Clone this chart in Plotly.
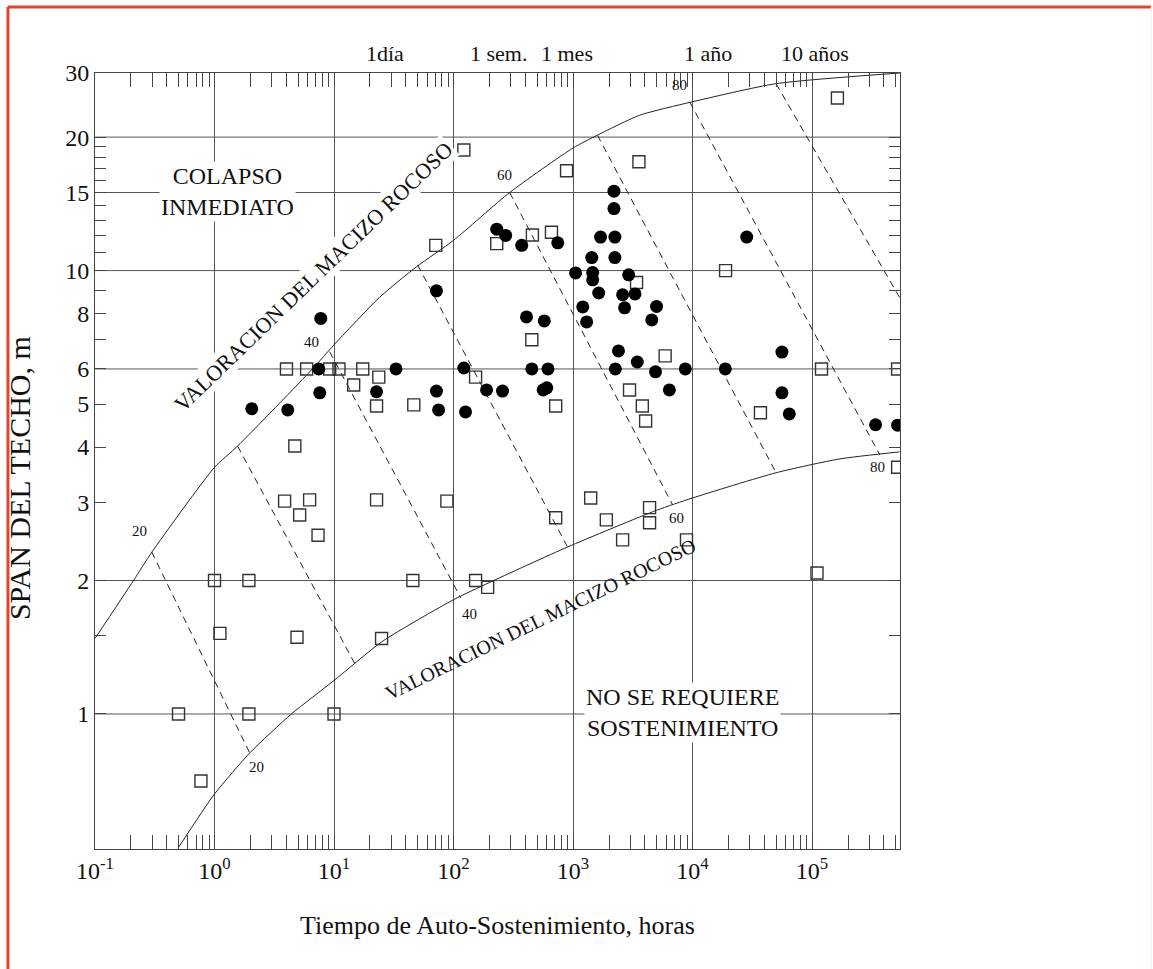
import math
import plotly.graph_objects as go

# ---------------- data ----------------
# axes
X_RANGE_LOG = [-1.0, 5.736]          # 10^-1 h .. ~5.4e5 h
Y_RANGE = [0.496, 27.9]              # m
X_DECADES = [0.1, 1, 10, 100, 1000, 10000, 100000]
X_DECADE_TEXT = ["10<sup>-1</sup>", "10<sup>0</sup>", "10<sup>1</sup>", "10<sup>2</sup>",
                 "10<sup>3</sup>", "10<sup>4</sup>", "10<sup>5</sup>"]
Y_LABEL_VALS = [1, 2, 3, 4, 5, 6, 8, 10, 15, 20, 27.9]
Y_LABEL_TEXT = ["1", "2", "3", "4", "5", "6", "8", "10", "15", "20", "30"]
Y_MINOR_TICKS = [1.5, 7, 9, 11, 12, 13, 14, 16, 17, 18, 19]
Y_GRID_VALS = [1, 2, 6, 10, 15, 20]

# time marks on top
TIME_MARK_TEXT = ["1día", "1 sem.", "1 mes", "1 año", "10 años"]
TIME_MARK_HOURS = [26.5, 239, 885, 13600, 105000]

# upper limit curve (valoracion del macizo rocoso)
UPPER_T = [0.1, 0.21, 0.3, 1.0, 1.56, 6.6, 10, 24, 49, 100, 295, 1000, 1600, 3600, 9800, 50000, 540000]
UPPER_S = [1.48, 2.0, 2.32, 3.6, 4.02, 6.0, 6.8, 8.7, 10.2, 11.7, 15.0, 18.9, 20.2, 22.4, 24.0, 26.4, 27.9]

# lower limit curve
LOWER_T = [0.5, 1.0, 2.0, 4.4, 10, 25.6, 100, 200, 900, 5000, 10000, 50000, 170000, 540000]
LOWER_S = [0.5, 0.66, 0.82, 1.0, 1.19, 1.46, 1.81, 1.98, 2.38, 2.88, 3.07, 3.5, 3.76, 3.9]

# iso-RMR dashed lines (start on upper curve, end on lower curve / frame)
RMR_VALUES = [20, 30, 40, 50, 60, 70, 80, 90]
RMR_T0 = [0.298, 1.56, 9.2, 50, 295, 1600, 9480, 50000]
RMR_S0 = [2.32, 4.02, 6.56, 10.3, 15.0, 20.2, 24.0, 26.4]
RMR_T1 = [1.97, 14.9, 115, 900, 6820, 50000, 369000, 540000]
RMR_S1 = [0.817, 1.30, 1.827, 2.38, 2.96, 3.5, 3.84, 8.7]

# RMR labels
RMR_LABEL_TEXT = ["20", "20", "40", "40", "60", "60", "80", "80"]
RMR_LABEL_T = [0.2366, 2.25, 6.5, 137, 268, 7350, 7800, 354000]
RMR_LABEL_S = [2.587, 0.759, 6.9, 1.68, 16.4, 2.77, 26.2, 3.61]

# case histories: collapse (filled circles)
CIRCLE_T = [2.05, 4.1, 7.75, 7.45, 7.6, 33, 22.7,
            72, 72, 75, 122, 126, 189, 257, 408, 575, 452, 617, 562, 603,
            1206, 1300, 1640, 2600, 2700, 3300, 5000, 4560, 2400, 2260, 3450, 4900, 6400, 8700,
            18800, 56000, 56000, 64500, 340000, 520000,
            230, 273, 372, 745, 2200, 2200, 1700, 2240, 1435, 2240, 2920, 1050, 1460, 1460, 28400]
CIRCLE_S = [4.88, 4.85, 7.8, 6.0, 5.3, 6.0, 5.33,
            9.0, 5.35, 4.85, 6.03, 4.8, 5.38, 5.35, 7.86, 7.7, 6.0, 6.0, 5.38, 5.44,
            8.28, 7.66, 8.9, 8.82, 8.24, 8.86, 8.3, 7.74, 6.59, 6.0, 6.22, 5.91, 5.38, 6.0,
            6.0, 6.55, 5.3, 4.75, 4.49, 4.48,
            12.4, 12.0, 11.4, 11.55, 15.1, 13.8, 11.9, 11.9, 10.7, 10.7, 9.78, 9.88, 9.9, 9.53, 11.9]

# case histories: no collapse (open squares)
SQUARE_T = [4.0, 5.9, 9.2, 11, 17.4, 14.6, 23.7, 22.7, 4.7, 3.86, 6.25, 5.16, 7.35, 22.7,
            1.0, 1.94, 88, 45.7, 153, 193, 1.11, 4.9, 25, 0.5, 1.94, 10, 0.77,
            46.5, 153, 452, 716, 716, 1405, 1900, 2600, 4370, 4370, 8900, 2970, 3800, 4050,
            5900, 37000, 120000, 520000, 520000, 110000,
            122, 71, 230, 457, 660, 883, 3560, 18900, 163000, 3400]
SQUARE_S = [6.0, 6.0, 6.0, 6.0, 6.0, 5.52, 5.75, 4.95, 4.02, 3.02, 3.04, 2.81, 2.53, 3.04,
            2.0, 2.0, 3.02, 2.0, 2.0, 1.93, 1.52, 1.49, 1.48, 1.0, 1.0, 1.0, 0.706,
            4.98, 5.75, 6.98, 4.95, 2.77, 3.07, 2.74, 2.47, 2.92, 2.70, 2.47, 5.38, 4.95, 4.58,
            6.42, 4.78, 6.0, 6.0, 3.6, 2.08,
            18.7, 11.4, 11.5, 12.03, 12.2, 16.8, 17.6, 10.0, 24.5, 9.4]

# ---------------- figure ----------------
FONT = "Liberation Serif"
INK = "#222222"
GRID = "#555555"
AXIS = "#444444"

fig = go.Figure()

# RMR dashed lines
dx, dy = [], []
for t0, s0, t1, s1 in zip(RMR_T0, RMR_S0, RMR_T1, RMR_S1):
    dx += [t0, t1, None]
    dy += [s0, s1, None]
fig.add_trace(go.Scatter(x=dx, y=dy, mode="lines", hoverinfo="skip",
                         line=dict(color=INK, width=1, dash="7px,5px")))

fig.add_trace(go.Scatter(x=UPPER_T, y=UPPER_S, mode="lines", hoverinfo="skip",
                         line=dict(color=INK, width=1, shape="spline", smoothing=0.6)))
fig.add_trace(go.Scatter(x=LOWER_T, y=LOWER_S, mode="lines", hoverinfo="skip",
                         line=dict(color=INK, width=1, shape="spline", smoothing=0.6)))

fig.add_trace(go.Scatter(x=SQUARE_T, y=SQUARE_S, mode="markers",
                         marker=dict(symbol="square-open", size=12, color="#333333",
                                     line=dict(width=1.4, color="#333333"))))
fig.add_trace(go.Scatter(x=CIRCLE_T, y=CIRCLE_S, mode="markers",
                         marker=dict(symbol="circle", size=13, color="black",
                                     line=dict(width=0))))

# minor x ticks: 2..9 within each decade
x_max = 10 ** X_RANGE_LOG[1]
x_minor = [d * k for d in X_DECADES for k in range(2, 10) if d * k <= x_max]

fig.update_layout(
    width=1153, height=969,
    margin=dict(l=95, r=253, t=73, b=120),
    paper_bgcolor="white", plot_bgcolor="white",
    showlegend=False,
    font=dict(family=FONT, size=24, color="#111111"),
    xaxis=dict(type="log", range=X_RANGE_LOG,
               tickvals=X_DECADES, ticktext=X_DECADE_TEXT,
               ticks="inside", ticklen=14, tickcolor=AXIS, tickwidth=1,
               showgrid=True, gridcolor=GRID, gridwidth=1, zeroline=False,
               showline=True, linecolor=AXIS, linewidth=1, mirror="allticks",
               tickfont=dict(family=FONT, size=24, color="#111111"),
               minor=dict(tickvals=x_minor, ticks="inside", ticklen=14,
                          tickcolor=AXIS, tickwidth=1, showgrid=False),
               title=dict(text="Tiempo de Auto-Sostenimiento, horas",
                          font=dict(family=FONT, size=26, color="#111111"), standoff=33)),
    yaxis=dict(type="log", range=[math.log10(Y_RANGE[0]), math.log10(Y_RANGE[1])],
               tickvals=Y_LABEL_VALS, ticktext=Y_LABEL_TEXT,
               ticks="inside", ticklen=11, tickcolor=AXIS, tickwidth=1,
               showgrid=False, zeroline=False,
               showline=True, linecolor=AXIS, linewidth=1, mirror="allticks",
               tickfont=dict(family=FONT, size=24, color="#111111"),
               minor=dict(tickvals=Y_MINOR_TICKS, ticks="inside", ticklen=11,
                          tickcolor=AXIS, tickwidth=1, showgrid=False)),
)

ann = []
# top time marks
for txt, h in zip(TIME_MARK_TEXT, TIME_MARK_HOURS):
    ann.append(dict(x=math.log10(h), y=1.0245, xref="x", yref="paper", text=txt,
                    showarrow=False, xanchor="center", yanchor="middle",
                    font=dict(family=FONT, size=22, color="#111111")))
# RMR labels
for txt, t, s in zip(RMR_LABEL_TEXT, RMR_LABEL_T, RMR_LABEL_S):
    ann.append(dict(x=math.log10(t), y=math.log10(s), xref="x", yref="y", text=txt,
                    showarrow=False, font=dict(family=FONT, size=15, color="#111111")))
# region labels
ann.append(dict(x=math.log10(1.29), y=math.log10(15.05), xref="x", yref="y",
                text="COLAPSO<br>INMEDIATO", showarrow=False, bgcolor="white",
                font=dict(family=FONT, size=24, color="#111111")))
ann.append(dict(x=math.log10(8280), y=math.log10(1.01), xref="x", yref="y",
                text="NO SE REQUIERE<br>SOSTENIMIENTO", showarrow=False, bgcolor="white",
                font=dict(family=FONT, size=24, color="#111111")))
ann.append(dict(x=math.log10(6.76), y=math.log10(9.68), xref="x", yref="y",
                text="VALORACION DEL MACIZO ROCOSO", showarrow=False, textangle=-44,
                bgcolor="white", font=dict(family=FONT, size=22, color="#111111")))
ann.append(dict(x=math.log10(537), y=math.log10(1.638), xref="x", yref="y",
                text="VALORACION DEL MACIZO ROCOSO", showarrow=False, textangle=-26,
                font=dict(family=FONT, size=20, color="#111111")))
# y axis title
ann.append(dict(x=-0.0944, y=0.478, xref="paper", yref="paper",
                text="SPAN DEL TECHO, m", showarrow=False, textangle=-90,
                xanchor="center", yanchor="middle",
                font=dict(family=FONT, size=30, color="#111111")))
fig.update_layout(annotations=ann)

# horizontal grid lines at the chosen spans, red frame of the page
RED = "#e4432d"
shapes = [dict(type="line", xref="paper", yref="y", x0=0, x1=1, y0=v, y1=v,
               line=dict(color=GRID, width=1), layer="below") for v in Y_GRID_VALS]
shapes += [
    dict(type="line", xref="paper", yref="paper", x0=-0.1081, x1=1.3118, y0=1.0851, y1=1.0851,
         line=dict(color=RED, width=3), layer="above"),
    dict(type="line", xref="paper", yref="paper", x0=-0.1081, x1=-0.1081, y0=-0.16, y1=1.0851,
         line=dict(color=RED, width=3), layer="above"),
    dict(type="line", xref="paper", yref="paper", x0=1.3118, x1=1.3118, y0=-0.16, y1=1.0851,
         line=dict(color="#f8e4df", width=1), layer="above"),
]
fig.update_layout(shapes=shapes)

fig.write_html("out.html")
